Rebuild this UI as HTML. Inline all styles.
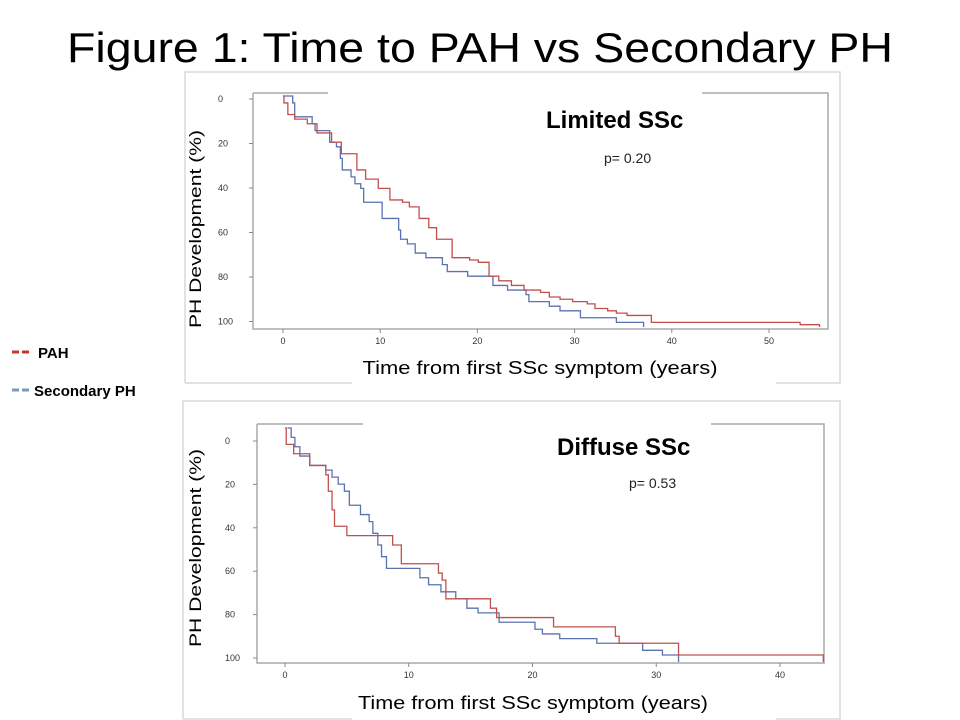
<!DOCTYPE html>
<html><head><meta charset="utf-8"><style>
body{margin:0;background:#fff}
svg{display:block;font-family:"Liberation Sans",sans-serif}
</style></head><body>
<svg id="c" width="960" height="720" viewBox="0 0 960 720">
<text x="480" y="62" text-anchor="middle" font-size="42" textLength="826" lengthAdjust="spacingAndGlyphs" fill="#000">Figure 1: Time to PAH vs Secondary PH</text>
<g>
<g><line x1="12" y1="352" x2="30" y2="352" stroke="#c0392b" stroke-width="3" stroke-dasharray="7,3"/><text x="38" y="358" font-size="15" font-weight="bold">PAH</text></g>
<g><line x1="12" y1="390" x2="30" y2="390" stroke="#7f98bf" stroke-width="3" stroke-dasharray="7,3"/><text x="34" y="396" font-size="15" font-weight="bold">Secondary PH</text></g>
</g>
<g id="top"></g>
<g id="bot"></g>
</svg>
<script>
// Limited SSc (top) — step data: times (years) and cumulative PH % after each time
const limPahT=[0,0.1,0.5,1.2,2.5,3.5,5,6,7.6,8.5,9.8,11,12.3,13,14,15,15.8,17.4,19.2,20.1,21.2,22.2,23.5,24.8,26.5,27.4,28.5,29.8,31.3,32.1,33.4,34.3,35.4,37.9,53.2,55.2];
const limPahV=[0,3,8,10,12,16,20,25,32,36,40,45,46,48,53,57,62,70,71,72,78,80,82,84,85,87,88,89,90,92,93,94,95,98,99,100];
const limSecT=[0,1,1.2,3,3.3,4.8,5.5,5.9,6.1,7.0,7.4,8.0,8.3,10.2,11.9,12.1,12.8,13.6,14.7,16.4,16.9,19,21.6,23.1,25,25.3,27.4,28.5,30.6,34.3,37.1];
const limSecV=[0,3,9,12,15,20,22,27,32,35,38,40,46,53,58,62,64,68,70,73,76,78,82,84,86,89,91,93,96,98,100];
// Diffuse SSc (bottom)
const difPahT=[0,0.1,0.7,2,3.3,3.5,3.8,4,5,8.7,9.4,12.4,12.7,13,16.6,17.1,21.7,26.7,27,31.8,43.5];
const difPahV=[0,7,11,16,20,27,35,42,46,50,58,62,65,73,77,81,85,89,92,97,100];
const difSecT=[0.2,0.5,0.8,1.2,2,3.3,3.8,4.3,4.8,5.2,6.1,6.8,7.1,7.5,7.8,8.2,10.9,11.6,12.6,13.8,14.7,15.6,17.3,20.2,20.8,22.2,25.2,28.9,30.5,31.8];
const difSecV=[0,4,8,12,16,18,21,24,27,33,37,40,45,50,55,60,64,67,70,73,77,79,83,86,88,90,92,95,97,100];
const limXTicks=[0,10,20,30,40,50];
const difXTicks=[0,10,20,30,40];
const yTickLabels=[0,20,40,60,80,100];

const NS='http://www.w3.org/2000/svg';
function mk(p,tag,a){const e=document.createElementNS(NS,tag);for(const k in a)e.setAttribute(k,a[k]);p.appendChild(e);return e;}

function panel(g,o){
  const grey='#c8c8c8';
  // outer box
  const ob=mk(g,'path',{d:`M${o.box[0]},${o.box[3]} V${o.box[1]} H${o.box[2]} V${o.box[3]} H${o.gapB[1]} M${o.gapB[0]},${o.box[3]} H${o.box[0]}`,fill:'none',stroke:'#d9d9d9','stroke-width':1.5});
  
  
  const fr=mk(g,'path',{d:`M${o.L},${o.T} V${o.B} H${o.R} V${o.T} H${o.gapT[1]} M${o.gapT[0]},${o.T} H${o.L}`,fill:'none',stroke:'#aaa','stroke-width':1.5});
  
  
  const xs=t=>o.x0+t*o.xk, ys=v=>o.y0+v*o.yk;
  o.xt.forEach(t=>{
    const l=mk(g,'line',{x1:xs(t),x2:xs(t),y1:o.B,y2:o.B+4,stroke:'#888'});
    
    
    const tx=mk(g,'text',{x:xs(t),y:o.B+15,'font-size':9,'text-anchor':'middle',fill:'#333'});tx.textContent=t;
    
    
  });
  yTickLabels.forEach((v,i)=>{
    const y=o.yl0+i*o.ylk;
    const l=mk(g,'line',{x1:o.L-4,x2:o.L,y1:y,y2:y,stroke:'#888'});
    
    
    const tx=mk(g,'text',{x:o.ylx,y:y+3,'font-size':9,fill:'#333'});tx.textContent=v;
    
    
  });
  function step(T,V,col,name){
    let d=`M${xs(T[0])},${ys(0)} V${ys(V[0])}`;
    for(let i=1;i<T.length;i++){d+=` H${xs(T[i])} V${ys(V[i])}`;}
    const p=mk(g,'path',{d:d,fill:'none',stroke:col,'stroke-width':1.3});
    
    
  }
  step(o.sT,o.sV,'#5a72b0','secondary-ph-curve');
  step(o.pT,o.pV,'#c0504d','pah-curve');
  const t1=mk(g,'text',{x:o.tx,y:o.ty,'font-size':24,'font-weight':'bold'});t1.textContent=o.title;
  
  
  const t2=mk(g,'text',{x:o.px,y:o.py,'font-size':14,fill:'#222'});t2.textContent=o.p;
  
  
  const yt=mk(g,'text',{x:0,y:0,'font-size':17,'text-anchor':'middle',transform:`translate(${o.yax},${o.yay}) rotate(-90)`,textLength:198,lengthAdjust:'spacingAndGlyphs'});yt.textContent='PH Development (%)';
  
  
  const xt=mk(g,'text',{x:o.xax,y:o.xay,'font-size':18,'text-anchor':'middle',textLength:o.xw,lengthAdjust:'spacingAndGlyphs'});xt.textContent=o.xlab;
  
  
}
panel(document.getElementById('top'),{box:[185,72,840,383],gapB:[352,776],L:253,T:93,R:828,B:329,gapT:[328,702],
  x0:283,xk:9.72,y0:96,yk:2.31,xt:limXTicks,yl0:99,ylk:44.5,ylx:218,
  pT:limPahT,pV:limPahV,sT:limSecT,sV:limSecV,title:'Limited SSc',tx:546,ty:128,p:'p= 0.20',px:604,py:163,
  yax:201,yay:229,xax:540,xay:374,xw:355,xlab:'Time from first SSc symptom  (years)'});
panel(document.getElementById('bot'),{box:[183,401,840,719],gapB:[352,776],L:257,T:424,R:824,B:663,gapT:[363,711],
  x0:285,xk:12.375,y0:428,yk:2.34,xt:difXTicks,yl0:441,ylk:43.4,ylx:225,
  pT:difPahT,pV:difPahV,sT:difSecT,sV:difSecV,title:'Diffuse SSc',tx:557,ty:455,p:'p= 0.53',px:629,py:488,
  yax:201,yay:548,xax:533,xay:709,xw:350,xlab:'Time from first SSc symptom (years)'});
</script>
</body></html>
